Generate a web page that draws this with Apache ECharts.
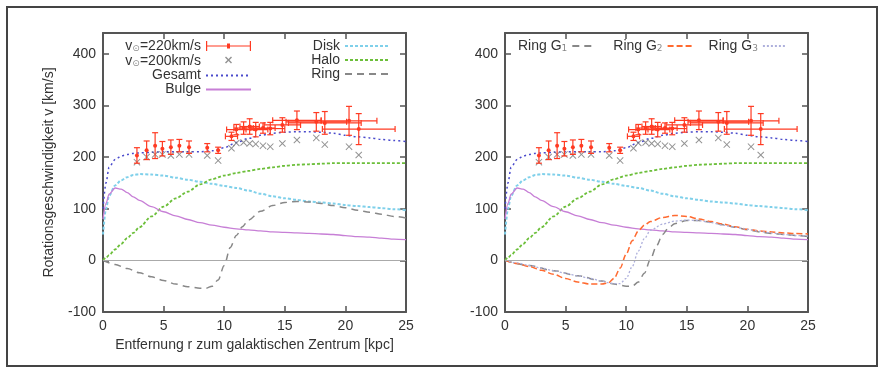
<!DOCTYPE html>
<html>
<head>
<meta charset="utf-8">
<script src="https://cdn.jsdelivr.net/npm/echarts@6/dist/echarts.min.js"></script>
<style>
html, body { margin: 0; background: #fff; }
#chart { width: 885px; height: 374px; }
</style>
</head>
<body>
<div id="chart"></div>
<script>
// Modellkurven (r in kpc, v in km/s)
var rGrid  = [0, 0.25, 0.5, 1, 1.5, 2, 2.5, 3, 4, 5, 6, 7, 8, 9, 10, 11, 12, 13, 14, 15, 16, 17, 18, 19, 20, 21, 22, 23, 24, 25];
var gesamt = [100, 150, 180, 195, 202, 205, 207, 208, 209, 210, 210, 210, 210, 212, 218, 228, 236, 242, 246, 248, 249, 249, 248, 246, 242, 239, 237, 234, 232, 230];
var disk   = [50, 100, 125, 145, 155, 161, 165, 167, 166, 164, 160, 156, 152, 148, 144, 140, 135, 129, 124, 120, 117, 114, 112, 110, 107, 105, 103, 101, 99, 97];
var halo   = [0, 5, 10, 21, 32, 43, 53, 64, 85, 104, 120, 133, 147, 157, 164, 169, 173, 177, 180, 183, 185, 186, 187, 188, 188, 188, 188, 188, 188, 188];
var bulge  = [80, 110, 128, 140, 138, 131, 123, 116, 104, 94, 86, 79, 73, 68, 64, 61, 59, 57, 55, 54, 53, 52, 51, 50, 48, 46, 45, 43, 41, 40];

var rRing = [0, 1, 2, 3, 4, 5, 6, 7, 8, 8.5, 9, 9.5, 10, 10.5, 11, 11.5, 12, 13, 14, 15, 16, 17, 18, 19, 20, 21, 22, 23, 24, 25];
var ring  = [0, -8, -16, -24, -32, -39, -46, -51, -54, -54, -50, -38, -10, 25, 48, 65, 78, 95, 106, 112, 114, 113, 110, 106, 102, 97, 93, 89, 85, 82];

var rG1 = [0, 2, 4, 6, 8, 9, 10, 10.5, 11, 11.5, 12, 12.5, 13, 13.5, 14, 15, 16, 17, 18, 19, 20, 21, 22, 23, 24, 25];
var g1  = [0, -10, -20, -30, -40, -46, -50, -50, -42, -25, 2, 28, 50, 63, 71, 77, 77, 74, 69, 64, 59, 55, 52, 50, 48, 46];
var rG2 = [0, 1, 2, 3, 4, 5, 6, 7, 8, 8.5, 9, 9.5, 10, 10.5, 11, 11.5, 12, 13, 14, 15, 16, 17, 18, 19, 20, 21, 22, 23, 24, 25];
var g2  = [0, -6, -12, -19, -27, -35, -42, -46, -46, -44, -35, -15, 12, 38, 57, 68, 75, 83, 87, 85, 80, 75, 70, 65, 60, 57, 55, 53, 52, 51];
var g3  = [0, -5, -10, -15, -20, -25, -30, -35, -40, -43, -45, -45, -35, -12, 18, 42, 58, 70, 76, 78, 77, 73, 68, 64, 60, 56, 53, 50, 48, 47];

// Messpunkte
var obsR    = [2.8, 3.6, 4.3, 4.9, 5.6, 6.3, 7.1, 8.6, 9.5, 10.6, 11.0, 11.6, 12.1, 12.6, 13.2, 13.8, 14.8, 16.0, 17.6, 18.3, 20.3, 21.1];
var v220    = [203, 213, 222, 216, 219, 222, 219, 218, 213, 240, 253, 256, 259, 253, 256, 255, 262, 271, 268, 266, 270, 254];
var errR    = [0, 0, 0, 0, 0, 0, 0, 0, 0, 0.5, 0.8, 0.8, 0.8, 1.0, 1.0, 1.2, 1.5, 2.0, 2.5, 3.0, 2.3, 3.0];
var errV    = [15, 18, 25, 14, 14, 12, 12, 8, 6, 8, 10, 12, 15, 14, 10, 12, 14, 18, 18, 22, 28, 30];
var v200    = [190, 200, 205, 205, 203, 205, 205, 203, 193, 217, 227, 228, 226, 225, 222, 220, 226, 233, 237, 224, 220, 204];

var N220 = 'v⊙=220km/s', N200 = 'v⊙=200km/s';
var RED = '#ff3a22';
var FONT = 'Liberation Sans';
var xPath = 'path://M0,1L1,0L5,4L9,0L10,1L6,5L10,9L9,10L5,6L1,10L0,9L4,5Z';

function pairs(xs, ys) {
    return xs.map(function (x, i) { return [x, ys[i]]; });
}

function curve(name, xs, ys, color, type, width, p) {
    return {
        name: name, type: 'line', xAxisIndex: p * 2, yAxisIndex: p * 2,
        data: pairs(xs, ys), symbol: 'none', showSymbol: false,
        smooth: 0.3, smoothMonotone: 'x',
        lineStyle: { color: color, type: type, width: width },
        itemStyle: { color: color }, z: 3
    };
}

function renderErr(params, api) {
    var r = api.value(0), v = api.value(1), dr = api.value(2), dv = api.value(3);
    var c = api.coord([r, v]);
    var t = api.coord([r, v + dv]), b = api.coord([r, v - dv]);
    var st = { stroke: RED, lineWidth: 1.2 };
    var kids = [
        { type: 'line', shape: { x1: c[0], y1: t[1], x2: c[0], y2: b[1] }, style: st },
        { type: 'line', shape: { x1: c[0] - 3, y1: t[1], x2: c[0] + 3, y2: t[1] }, style: st },
        { type: 'line', shape: { x1: c[0] - 3, y1: b[1], x2: c[0] + 3, y2: b[1] }, style: st },
        { type: 'circle', shape: { cx: c[0], cy: c[1], r: 2 }, style: { fill: RED } }
    ];
    if (dr > 0) {
        var l = api.coord([r - dr, v]), rr = api.coord([r + dr, v]);
        kids.push({ type: 'line', shape: { x1: l[0], y1: c[1], x2: rr[0], y2: c[1] }, style: st });
        kids.push({ type: 'line', shape: { x1: l[0], y1: c[1] - 3, x2: l[0], y2: c[1] + 3 }, style: st });
        kids.push({ type: 'line', shape: { x1: rr[0], y1: c[1] - 3, x2: rr[0], y2: c[1] + 3 }, style: st });
    }
    return { type: 'group', children: kids };
}

function common(p) {
    var s = [
        curve('Gesamt', rGrid, gesamt, '#4a4acc', [2, 3], 1.5, p),
        curve('Disk', rGrid, disk, '#7fd0ea', [3, 2], 2, p),
        curve('Halo', rGrid, halo, '#6cbf3a', [3, 2], 1.8, p),
        curve('Bulge', rGrid, bulge, '#c77fd6', 'solid', 1.3, p),
        {
            name: N200, type: 'scatter', xAxisIndex: p * 2, yAxisIndex: p * 2,
            data: pairs(obsR, v200), symbol: xPath, symbolSize: 7,
            itemStyle: { color: '#777' }, z: 4
        },
        {
            name: N220, type: 'custom', xAxisIndex: p * 2, yAxisIndex: p * 2,
            data: obsR.map(function (r, i) { return [r, v220[i], errR[i], errV[i]]; }),
            encode: { x: 0, y: 1 }, renderItem: renderErr,
            itemStyle: { color: RED }, z: 5
        }
    ];
    s[3].markLine = {
        silent: true, symbol: ['none', 'none'], label: { show: false },
        lineStyle: { color: '#aaa', width: 1, type: 'solid' },
        data: [{ yAxis: 0 }]
    };
    return s;
}

function xAx(grid, top, withLabel) {
    return {
        type: 'value', gridIndex: grid, position: top ? 'top' : 'bottom',
        min: 0, max: 25, interval: 5,
        axisLine: { show: true, onZero: false, lineStyle: { color: '#555', width: 2 } },
        axisTick: { show: true, inside: true, length: 6, lineStyle: { color: '#555', width: 1.5 } },
        splitLine: { show: false },
        axisLabel: { show: withLabel, fontSize: 14, color: '#333', fontFamily: FONT, margin: 7 }
    };
}

function yAx(grid, right) {
    return {
        type: 'value', gridIndex: grid, position: right ? 'right' : 'left',
        min: -100, max: 440, interval: 100,
        axisLine: { show: true, onZero: false, lineStyle: { color: '#555', width: 2 } },
        axisTick: { show: true, inside: true, length: 6, lineStyle: { color: '#555', width: 1.5 } },
        splitLine: { show: false },
        axisLabel: {
            show: !right, fontSize: 14, color: '#333', fontFamily: FONT, margin: 7,
            showMaxLabel: false,
            formatter: function (v) { return v % 100 === 0 ? String(v) : ''; }
        }
    };
}

var xs = [xAx(0, false, true), xAx(0, true, false), xAx(1, false, true), xAx(1, true, false)];
xs[0].name = 'Entfernung r zum galaktischen Zentrum [kpc]';
xs[0].nameLocation = 'middle';
xs[0].nameGap = 24;
xs[0].nameTextStyle = { fontSize: 14, color: '#333', fontFamily: FONT };

var ys = [yAx(0, false), yAx(0, true), yAx(1, false), yAx(1, true)];
ys[0].name = 'Rotationsgeschwindigkeit v [km/s]';
ys[0].nameLocation = 'middle';
ys[0].nameRotate = 90;
ys[0].nameGap = 47;
ys[0].nameTextStyle = { fontSize: 14, color: '#333', fontFamily: FONT };

var rich = {
    s: { fontSize: 9, color: '#888', fontFamily: 'DejaVu Sans', verticalAlign: 'bottom', lineHeight: 15 },
    b: { fontSize: 14, color: '#333', fontFamily: FONT, lineHeight: 15 }
};
function legendText(name) {
    if (name.charAt(1) === '⊙') return '{b|v}{s|⊙}{b|' + name.slice(2) + '}';
    if (name.indexOf('Ring G') === 0) return '{b|Ring G}{s|' + name.slice(6) + '}';
    return '{b|' + name + '}';
}
// Linienmuster ohne Punkt in der Legende
function lineItem(name) {
    return { name: name, itemStyle: { opacity: 0, color: 'rgba(0,0,0,0)', borderWidth: 0 } };
}
var legendBase = {
    orient: 'vertical', align: 'right', padding: 0, itemGap: 0,
    itemWidth: 45, itemHeight: 15, top: 39, formatter: legendText,
    textStyle: { fontSize: 14, color: '#333', fontFamily: FONT, rich: rich },
    selectedMode: false
};

var series = common(0).concat(common(1));
series.push(curve('Ring', rRing, ring, '#888', [7, 5], 1.5, 0));
series.push(curve('Ring G1', rG1, g1, '#888', [7, 5], 1.5, 1));
series.push(curve('Ring G2', rG2, g2, '#ff6a30', [6, 3], 1.5, 1));
series.push(curve('Ring G3', rG2, g3, '#aeb0dc', [2, 2], 1.3, 1));

var chart = echarts.init(document.getElementById('chart'));
chart.setOption({
    animation: false,
    backgroundColor: '#fff',
    grid: [
        { left: 103, right: 479, top: 33, bottom: 62 },
        { left: 505, right: 77, top: 33, bottom: 62 }
    ],
    xAxis: xs,
    yAxis: ys,
    legend: [
        Object.assign({}, legendBase, {
            right: 633,
            data: [
                { name: N220, icon: 'path://M0,0h1.2v10h-1.2z M43.8,0h1.2v10h-1.2z M0,4.4h45v1.2h-45z M21,2.5h3v5h-3z' },
                { name: N200, icon: 'path://M0,0h0.01v0.01h-0.01z M44.99,14.99h0.01v0.01h-0.01z M19,4L20,3L22.5,5.5L25,3L26,4L23.5,6.5L26,9L25,10L22.5,7.5L20,10L19,9L21.5,6.5Z' },
                lineItem('Gesamt'), lineItem('Bulge')
            ]
        }),
        Object.assign({}, legendBase, { right: 494, data: [lineItem('Disk'), lineItem('Halo'), lineItem('Ring')] }),
        Object.assign({}, legendBase, {
            orient: 'horizontal', left: 518, itemWidth: 24, itemGap: 16,
            data: [lineItem('Ring G1'), lineItem('Ring G2'), lineItem('Ring G3')]
        })
    ],
    graphic: [{
        type: 'rect', shape: { x: 7, y: 7, width: 870, height: 359 },
        style: { fill: 'none', stroke: '#444', lineWidth: 2 }, silent: true
    }],
    series: series
});
</script>
</body>
</html>
